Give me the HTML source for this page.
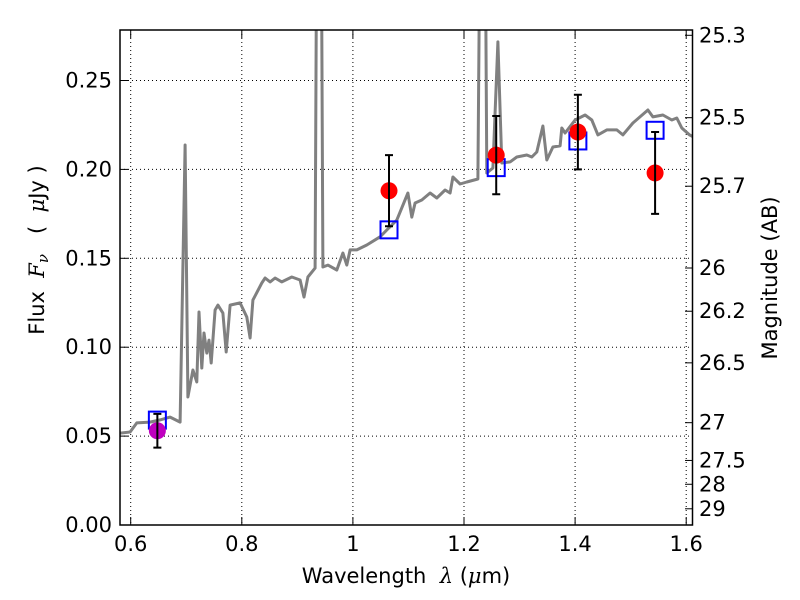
<!DOCTYPE html>
<html><head><meta charset="utf-8"><style>
body{margin:0;background:#fff}
svg{display:block;font-family:"DejaVu Sans","Liberation Sans",sans-serif}
.t{white-space:pre}
</style></head><body>
<svg id="chart" width="800" height="600">
<defs><clipPath id="clip"><rect x="120" y="30" width="572.5" height="495"/></clipPath></defs>
<rect x="0" y="0" width="800" height="600" fill="#fff"/>
<g id="grid"></g>
<g id="plot" clip-path="url(#clip)"></g>
<rect x="120" y="30" width="572.5" height="495" fill="none" stroke="#000" stroke-width="1.5"/>
<g id="axes"></g>
<text class="t" x="406" y="583" font-size="21" text-anchor="middle">Wavelength  <tspan font-style="italic" font-family="DejaVu Serif,serif">λ</tspan> (<tspan font-style="italic" font-family="DejaVu Serif,serif">μ</tspan>m)</text>
<text class="t" transform="translate(44,250) rotate(-90)" font-size="21" text-anchor="middle">Flux  <tspan font-style="italic" font-family="DejaVu Serif,serif">F<tspan font-size="15" dy="4">ν</tspan></tspan><tspan dy="-4">   (  </tspan><tspan font-style="italic" font-family="DejaVu Serif,serif">μ</tspan>Jy )</text>
<text transform="translate(777,278) rotate(-90)" font-size="21" text-anchor="middle">Magnitude (AB)</text>
</svg>
<script>
const specLam=[0.581,0.599,0.611,0.635,0.653,0.671,0.689,0.698,0.703,0.712,0.719,0.723,0.728,0.732,0.737,0.741,0.745,0.752,0.757,0.766,0.772,0.779,0.797,0.809,0.815,0.820,0.836,0.842,0.851,0.860,0.872,0.890,0.905,0.912,0.919,0.932,0.935,0.943,0.946,0.955,0.971,0.982,0.989,0.995,1.007,1.025,1.049,1.061,1.079,1.099,1.106,1.112,1.124,1.139,1.151,1.166,1.175,1.180,1.193,1.205,1.225,1.229,1.238,1.241,1.252,1.261,1.268,1.283,1.295,1.313,1.322,1.331,1.342,1.349,1.360,1.373,1.376,1.382,1.400,1.418,1.430,1.441,1.457,1.475,1.486,1.504,1.531,1.540,1.558,1.574,1.583,1.592,1.606,1.615];
const specFlux=[0.0517,0.0523,0.0574,0.0579,0.0591,0.0607,0.0579,0.2137,0.0720,0.0872,0.0804,0.1198,0.0883,0.1080,0.0967,0.1040,0.0911,0.1209,0.1237,0.1192,0.0973,0.1237,0.1249,0.1170,0.1052,0.1265,0.1361,0.1389,0.1367,0.1389,0.1367,0.1395,0.1378,0.1282,0.1395,0.1445,0.35,0.35,0.1451,0.1462,0.1434,0.1530,0.1462,0.1547,0.1547,0.1575,0.1621,0.1659,0.1715,0.1867,0.1732,0.1811,0.1828,0.1867,0.1839,0.1884,0.1867,0.1957,0.1918,0.1929,0.1946,0.35,0.35,0.1980,0.2008,0.2717,0.2036,0.2042,0.2070,0.2081,0.2070,0.2098,0.2244,0.2053,0.2126,0.2132,0.2233,0.2205,0.2278,0.2306,0.2278,0.2194,0.2222,0.2222,0.2194,0.2261,0.2334,0.2295,0.2306,0.2278,0.2289,0.2233,0.2194,0.2180];
const obsLam=[0.648,1.065,1.258,1.405,1.544];
const obsFlux=[0.053,0.188,0.208,0.221,0.198];
const obsErr=[0.0095,0.020,0.022,0.021,0.023];
const obsColor=['#bf00bf','red','red','red','red'];
const modelFlux=[0.059,0.166,0.201,0.216,0.222];
const xTicks=[0.6,0.8,1.0,1.2,1.4,1.6];
const xTickLabels=['0.6','0.8','1','1.2','1.4','1.6'];
const yTicks=[0,0.05,0.10,0.15,0.20,0.25];
const yTickLabels=['0.00','0.05','0.10','0.15','0.20','0.25'];
const magTicks=[25.3,25.5,25.7,26,26.2,26.5,27,27.5,28,29];
const magLabels=['25.3','25.5','25.7','26','26.2','26.5','27','27.5','28','29'];

const NS='http://www.w3.org/2000/svg';
const X=v=>130.7+(v-0.6)*555.5;
const Y=v=>525-v*1778;
function mk(tag,attrs,parent){const e=document.createElementNS(NS,tag);for(const k in attrs)e.setAttribute(k,attrs[k]);parent.appendChild(e);return e;}
const grid=document.getElementById('grid'),plot=document.getElementById('plot'),axes=document.getElementById('axes');

xTicks.forEach((t,i)=>{
  let g=mk('line',{x1:X(t),x2:X(t),y1:30,y2:525,stroke:'#000','stroke-width':1,'stroke-dasharray':'1,3'},grid);
  
  
  let tk=mk('line',{x1:X(t),x2:X(t),y1:525,y2:517,stroke:'#000','stroke-width':1},axes);
  
  
  let tk2=mk('line',{x1:X(t),x2:X(t),y1:30,y2:38,stroke:'#000','stroke-width':1},axes);
  
  
  let lb=mk('text',{x:X(t),y:551,'font-size':21,'text-anchor':'middle'},axes);
  lb.textContent=xTickLabels[i];
  
  
});
yTicks.forEach((t,i)=>{
  let g=mk('line',{x1:120,x2:692,y1:Y(t),y2:Y(t),stroke:'#000','stroke-width':1,'stroke-dasharray':'1,3'},grid);
  
  
  let tk=mk('line',{x1:120,x2:128,y1:Y(t),y2:Y(t),stroke:'#000','stroke-width':1},axes);
  
  
  let lb=mk('text',{x:112,y:Y(t)+7,'font-size':21,'text-anchor':'end'},axes);
  lb.textContent=yTickLabels[i];
  
  
});
magTicks.forEach((m,i)=>{
  const f=Math.pow(10,(23.9-m)/2.5);
  let tk=mk('line',{x1:692,x2:685,y1:Y(f),y2:Y(f),stroke:'#000','stroke-width':1},axes);
  
  
  let lb=mk('text',{x:699,y:Y(f)+7,'font-size':21},axes);
  lb.textContent=magLabels[i];
  
  
});

let d=specLam.map((l,i)=>(i?'L':'M')+X(l).toFixed(1)+','+Y(specFlux[i]).toFixed(1)).join('');
let sp=mk('path',{d:d,fill:'none',stroke:'#808080','stroke-width':3,'stroke-linejoin':'round'},plot);



obsLam.forEach((l,i)=>{
  const cx=X(l);
  let sq=mk('rect',{x:cx-8.5,y:Y(modelFlux[i])-8.5,width:17,height:17,fill:'none',stroke:'#0000ff','stroke-width':2},plot);
  
  
  let c=mk('circle',{cx:cx,cy:Y(obsFlux[i]),r:8.5,fill:obsColor[i]},plot);
  
  
  const y1=Y(obsFlux[i]+obsErr[i]),y2=Y(obsFlux[i]-obsErr[i]);
  let eb=mk('path',{d:`M${cx},${y1}L${cx},${y2}M${cx-4},${y1}L${cx+4},${y1}M${cx-4},${y2}L${cx+4},${y2}`,stroke:'#000','stroke-width':2,fill:'none'},plot);
  
  
});
</script>
</body></html>
